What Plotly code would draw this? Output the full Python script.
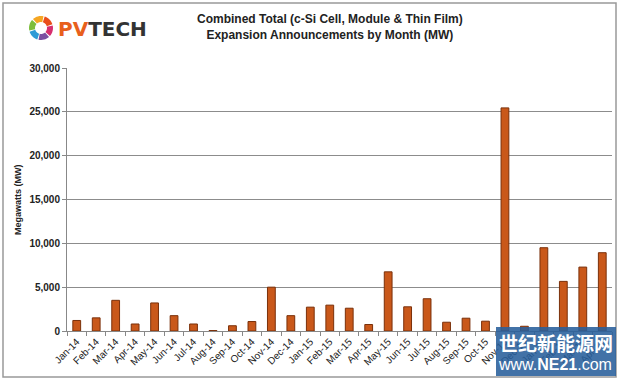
import math
import plotly.graph_objects as go

months = ["Jan-14", "Feb-14", "Mar-14", "Apr-14", "May-14", "Jun-14", "Jul-14", "Aug-14",
          "Sep-14", "Oct-14", "Nov-14", "Dec-14", "Jan-15", "Feb-15", "Mar-15", "Apr-15",
          "May-15", "Jun-15", "Jul-15", "Aug-15", "Sep-15", "Oct-15", "Nov-15", "Dec-15",
          "Jan-16", "Feb-16", "Mar-16", "Apr-16"]
values_mw = [1200, 1500, 3500, 800, 3200, 1750, 800, 50,
             600, 1080, 5000, 1750, 2720, 2950, 2600, 740,
             6750, 2760, 3680, 1000, 1460, 1120, 25450, 540,
             9500, 5660, 7290, 8930]
y_ticks = [0, 5000, 10000, 15000, 20000, 25000, 30000]

W, H = 620, 381
L, R, T, B = 67, 8, 68, 50
pw, ph = W - L - R, H - T - B


def px(x):
    return (x - L) / pw


def py(y):
    return (H - B - y) / ph


fig = go.Figure()
fig.add_trace(go.Bar(
    x=months, y=values_mw,
    marker=dict(color="#C9581A", line=dict(color="#7A300A", width=1)),
    width=0.4,
))

fig.update_layout(
    width=W, height=H,
    margin=dict(l=L, r=R, t=T, b=B, autoexpand=False),
    paper_bgcolor="white", plot_bgcolor="white",
    showlegend=False,
    font=dict(family="Arial, Liberation Sans, sans-serif", color="#222"),
    xaxis=dict(
        type="category", tickangle=-45, tickfont=dict(size=10, color="#222"),
        showline=True, linecolor="#888", linewidth=1,
        ticks="outside", tickson="boundaries", ticklen=4, tickcolor="#888",
        showgrid=False, automargin=False,
    ),
    yaxis=dict(
        range=[0, 30000], tickvals=y_ticks, tickformat=",",
        tickfont=dict(size=10, color="#222", weight="bold"),
        showline=True, linecolor="#888", linewidth=1,
        ticks="outside", ticklen=4, tickcolor="#888",
        showgrid=True, gridcolor="#8c8c8c", gridwidth=1,
        zeroline=False, automargin=False,
    ),
)

shapes = []
# outer frame
shapes.append(dict(type="rect", xref="paper", yref="paper",
                   x0=px(3), x1=px(616), y0=py(377), y1=py(3),
                   line=dict(color="#999", width=1.5), fillcolor="rgba(0,0,0,0)", layer="below"))
# logo ring
ring_colors = ["#E94E1B", "#F5A623", "#7DBE3B", "#2E9AD6", "#7B4FA0", "#D62F6F"]
cx, cy, r = 41, 28, 12
for i, c in enumerate(ring_colors):
    a0 = math.radians(i * 60 + 18)
    a1 = math.radians(i * 60 + 72)
    pts = []
    n = 8
    for k in range(n + 1):
        a = a0 + (a1 - a0) * k / n
        pts.append((cx + r * math.cos(a), cy - r * math.sin(a)))
    for k in range(n, -1, -1):
        a = a0 + (a1 - a0) * k / n
        pts.append((cx + (r - 6) * math.cos(a), cy - (r - 6) * math.sin(a)))
    path = "M " + " L ".join(f"{px(x):.5f},{py(y):.5f}" for x, y in pts) + " Z"
    shapes.append(dict(type="path", xref="paper", yref="paper", path=path,
                       fillcolor=c, line=dict(width=0)))
# watermark box
shapes.append(dict(type="rect", xref="paper", yref="paper",
                   x0=px(496), x1=px(616), y0=py(376), y1=py(327),
                   fillcolor="rgba(40,95,155,0.88)", line=dict(width=0)))
fig.update_layout(shapes=shapes)

annotations = [
    dict(text="<b>Combined Total (c-Si Cell, Module &amp; Thin Film)<br>Expansion Announcements by Month (MW)</b>",
         x=px(330), y=py(27), xref="paper", yref="paper", showarrow=False,
         font=dict(size=12, color="#222", family="Arial, Liberation Sans, sans-serif"),
         xanchor="center", yanchor="middle", align="center"),
    dict(text="<b><span style='color:#E8601C'>PV</span><span style='color:#333'>TECH</span></b>",
         x=px(56), y=py(29), xref="paper", yref="paper", showarrow=False,
         font=dict(size=20, family="DejaVu Sans, sans-serif"),
         xanchor="left", yanchor="middle"),
    dict(text="<b>Megawatts (MW)</b>", x=px(18), y=py(200), xref="paper", yref="paper",
         showarrow=False, textangle=-90, font=dict(size=9, color="#222"),
         xanchor="center", yanchor="middle"),
    dict(text="<b>世纪新能源网</b>", x=px(556), y=py(342), xref="paper", yref="paper",
         showarrow=False, font=dict(size=19, color="white", family="Noto Sans CJK SC"),
         xanchor="center", yanchor="middle"),
    dict(text="www.<b>NE21</b>.com", x=px(555), y=py(364), xref="paper", yref="paper",
         showarrow=False, font=dict(size=16, color="white", family="Arial, Liberation Sans, sans-serif"),
         xanchor="center", yanchor="middle"),
]
fig.update_layout(annotations=annotations)

fig.write_html("out.html", config={"displayModeBar": False},
               post_script="document.body.style.margin='0';")
